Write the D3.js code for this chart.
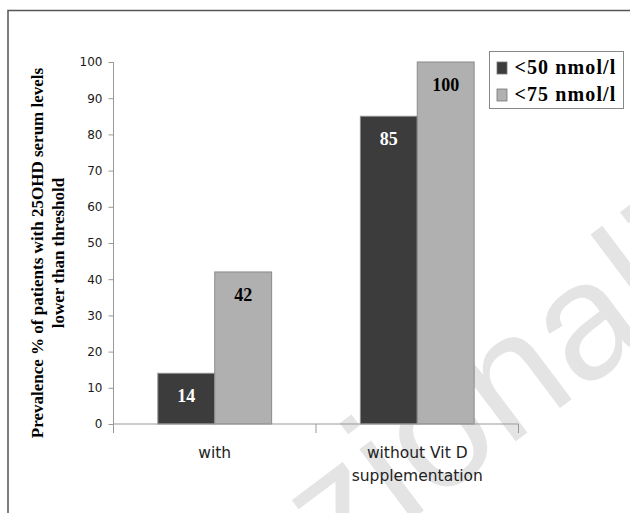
<!DOCTYPE html>
<html>
<head>
<meta charset="utf-8">
<script src="https://cdn.jsdelivr.net/npm/d3@7/dist/d3.min.js"></script>
<style>
  html, body { margin: 0; padding: 0; background: #fff; }
  svg { display: block; }
</style>
</head>
<body>
<svg id="chart" width="630" height="513"></svg>
<script>
// Prevalence of low 25OHD serum levels by supplementation status
const categories = ["with", "without Vit D supplementation"];
const categoryLines = [["with"], ["without Vit D", "supplementation"]];
const seriesNames = ["<50 nmol/l", "<75 nmol/l"];
const below50 = [14, 85];
const below75 = [42, 100];
const yTicks = [0, 10, 20, 30, 40, 50, 60, 70, 80, 90, 100];

const colors = ["#3c3c3c", "#b0b0b0"];
const labelColors = ["#ffffff", "#000000"];
const series = [below50, below75];

const svg = d3.select("#chart");

// faint watermark, behind the chart
svg.append("text")
  .attr("transform", "translate(337,576) rotate(-37)")
  .attr("fill", "#e4e4e4")
  .style("font-family", "'Liberation Sans', Arial, sans-serif").style("font-size", "166px")
  .text("zionali");

// outer frame
svg.append("path")
  .attr("d", "M8,513 L8,10.5 L630,10.5")
  .attr("fill", "none").attr("stroke", "#555").attr("stroke-width", 1.5);

const plotLeft = 113.5, plotRight = 518.5, plotTop = 62, plotBottom = 424;

const y = d3.scaleLinear().domain([0, 100]).range([plotBottom, plotTop]);
const x0 = d3.scaleBand().domain(categories).range([plotLeft, plotRight]).paddingInner(0).paddingOuter(0);
const x1 = d3.scaleBand().domain(d3.range(seriesNames.length)).range([0, x0.bandwidth()]).paddingOuter(0.78).paddingInner(0);

// y axis
const yAxis = svg.append("g").attr("transform", `translate(${plotLeft},0)`)
  .call(d3.axisLeft(y).tickValues(yTicks).tickSize(5).tickPadding(6).tickSizeOuter(0));
yAxis.select(".domain").remove();
yAxis.append("line").attr("x1", 0).attr("x2", 0).attr("y1", plotTop).attr("y2", plotBottom + 9)
  .attr("stroke", "#999");
yAxis.selectAll(".tick line").attr("stroke", "#999");
yAxis.selectAll(".tick text")
  .attr("fill", "#1a1a1a").style("font-family", "'DejaVu Sans', Verdana, sans-serif").style("font-size", "12px");

// bars
const groups = svg.append("g").selectAll("g").data(categories).join("g")
  .attr("transform", d => `translate(${x0(d)},0)`);

groups.each(function(cat, ci) {
  const g = d3.select(this);
  series.forEach((vals, si) => {
    const v = vals[ci];
    g.append("rect")
      .attr("x", x1(si)).attr("width", x1.bandwidth())
      .attr("y", y(v)).attr("height", y(0) - y(v))
      .attr("fill", colors[si]).attr("stroke", "#8a8a8a").attr("stroke-width", 1);
    g.append("text")
      .attr("x", x1(si) + x1.bandwidth() / 2)
      .attr("y", y(v) + 29)
      .attr("text-anchor", "middle")
      .attr("fill", labelColors[si])
      .style("font-family", "'Liberation Serif', 'Times New Roman', serif")
      .style("font-weight", "bold").style("font-size", "18px")
      .text(v);
  });
});

// x axis
const xg = svg.append("g");
xg.append("line").attr("x1", plotLeft).attr("x2", plotRight).attr("y1", plotBottom).attr("y2", plotBottom)
  .attr("stroke", "#999");
const boundaries = categories.map(c => x0(c)).concat([x0(categories[categories.length - 1]) + x0.bandwidth()]);
xg.selectAll("line.tick").data(boundaries).join("line").attr("class", "tick")
  .attr("x1", d => d).attr("x2", d => d).attr("y1", plotBottom).attr("y2", plotBottom + 9)
  .attr("stroke", "#999");

xg.selectAll("text.cat").data(categories).join("text").attr("class", "cat")
  .attr("x", d => x0(d) + x0.bandwidth() / 2)
  .attr("y", 458)
  .attr("text-anchor", "middle")
  .attr("fill", "#222")
  .style("font-family", "'DejaVu Sans', Verdana, sans-serif").style("font-size", "15.5px")
  .each(function(d, i) {
    const t = d3.select(this);
    categoryLines[i].forEach((line, li) => {
      t.append("tspan").attr("x", x0(d) + x0.bandwidth() / 2).attr("dy", li === 0 ? 0 : 23).text(line);
    });
  });

// y axis title
const title = svg.append("text")
  .attr("transform", "translate(43,253) rotate(-90)")
  .attr("text-anchor", "middle")
  .attr("fill", "#000")
  .style("font-family", "'Liberation Serif', 'Times New Roman', serif")
  .style("font-weight", "bold").style("font-size", "17px");
title.append("tspan").attr("x", 0).attr("dy", 0).text("Prevalence % of patients with 25OHD serum levels");
title.append("tspan").attr("x", 0).attr("dy", 21).text("lower than threshold");

// legend
const lg = svg.append("g").attr("transform", "translate(489.5,51.5)");
lg.append("rect").attr("width", 134).attr("height", 57).attr("fill", "#fff").attr("stroke", "#888");
seriesNames.forEach((name, i) => {
  const baseY = 22.5 + i * 27;
  lg.append("rect").attr("x", 7.5).attr("y", baseY - 12).attr("width", 10).attr("height", 12)
    .attr("fill", colors[i]).attr("stroke", "#777").attr("stroke-width", 0.8);
  lg.append("text").attr("x", 25).attr("y", baseY)
    .attr("fill", "#000")
    .style("font-family", "'Liberation Serif', 'Times New Roman', serif")
    .style("font-weight", "bold").style("font-size", "20px").style("letter-spacing", "1.1px")
    .text(name);
});
</script>
</body>
</html>
